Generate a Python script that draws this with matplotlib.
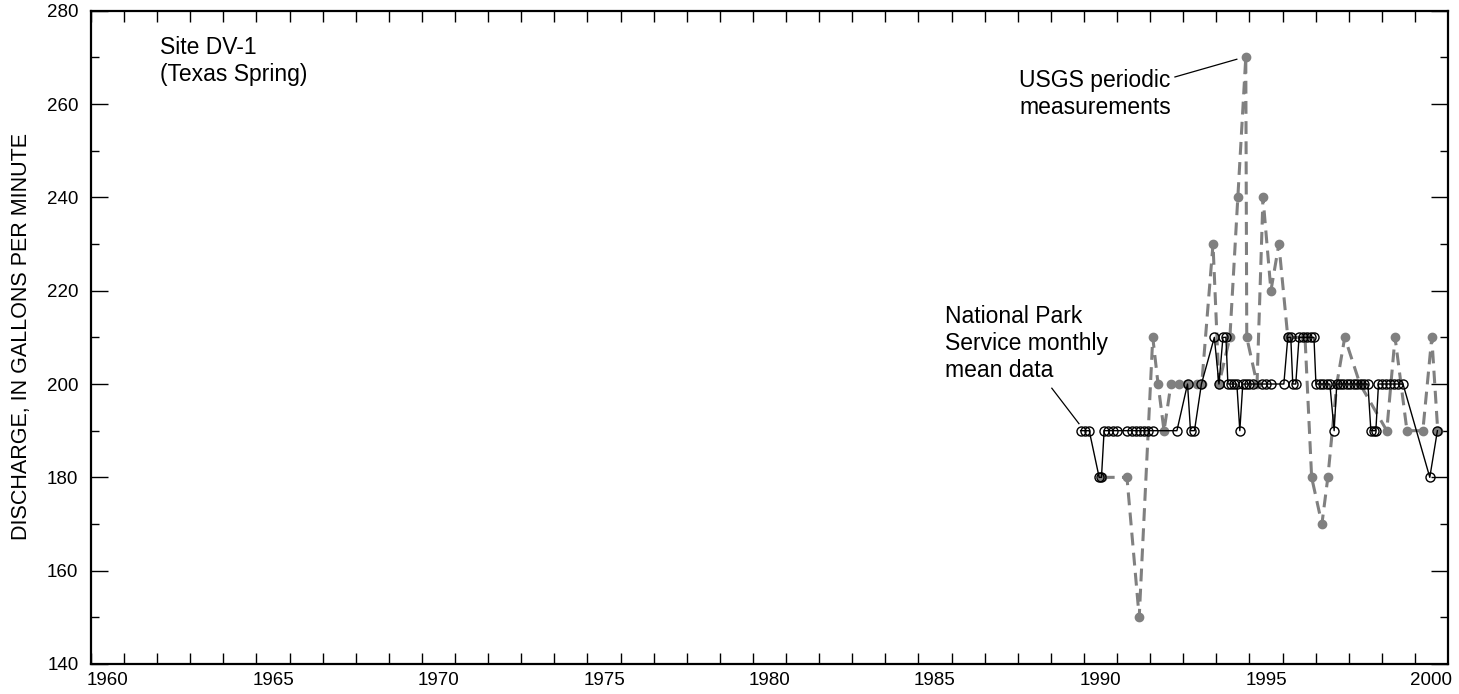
import matplotlib
matplotlib.use("Agg")
import matplotlib.pyplot as plt
import numpy as np

plt.rcParams['font.family'] = ['Liberation Sans', 'DejaVu Sans']

# National Park Service monthly mean data (decimal year, gallons per minute)
nps_year = [1989.90, 1990.03, 1990.16, 1990.46, 1990.53, 1990.61, 1990.73, 1990.87, 1990.99,
            1991.30, 1991.45, 1991.57, 1991.69, 1991.81, 1991.93, 1992.08, 1992.81,
            1993.13, 1993.22, 1993.34, 1993.55, 1993.94, 1994.08, 1994.20, 1994.29,
            1994.35, 1994.44, 1994.53, 1994.62, 1994.71, 1994.80, 1994.89, 1994.98, 1995.11,
            1995.37, 1995.50, 1995.64, 1996.04, 1996.16, 1996.25, 1996.31, 1996.40,
            1996.50, 1996.62, 1996.74, 1996.86, 1996.95, 1997.01, 1997.12, 1997.22,
            1997.33, 1997.43, 1997.56, 1997.64, 1997.73, 1997.84, 1997.95, 1998.05,
            1998.16, 1998.26, 1998.37, 1998.47, 1998.58, 1998.67, 1998.75, 1998.82,
            1998.90, 1999.02, 1999.14, 1999.26, 1999.38, 1999.50, 1999.64, 2000.45, 2000.68]
nps_flow = [190, 190, 190, 180, 180, 190, 190, 190, 190,
            190, 190, 190, 190, 190, 190, 190, 190,
            200, 190, 190, 200, 210, 200, 210, 210,
            200, 200, 200, 200, 190, 200, 200, 200, 200,
            200, 200, 200, 200, 210, 210, 200, 200,
            210, 210, 210, 210, 210, 200, 200, 200,
            200, 200, 190, 200, 200, 200, 200, 200,
            200, 200, 200, 200, 200, 190, 190, 190,
            200, 200, 200, 200, 200, 200, 200, 180, 190]

# USGS periodic measurements
usgs_year = [1990.54, 1991.30, 1991.67, 1992.08, 1992.24, 1992.42, 1992.63, 1992.87,
             1993.11, 1993.41, 1993.56, 1993.90, 1994.08, 1994.41, 1994.65, 1994.89,
             1994.92, 1995.23, 1995.41, 1995.65, 1995.89, 1996.16, 1996.68, 1996.88,
             1997.19, 1997.37, 1997.64, 1997.88, 1998.34, 1999.15, 1999.40, 1999.76,
             2000.24, 2000.51, 2000.69]
usgs_flow = [180, 180, 150, 210, 200, 190, 200, 200,
             200, 200, 200, 230, 200, 210, 240, 270,
             210, 200, 240, 220, 230, 210, 210, 180,
             170, 180, 200, 210, 200, 190, 210, 190,
             190, 210, 190]

year_labels = ['1960', '1965', '1970', '1975', '1980', '1985', '1990', '1995', '2000']
y_labels = ['140', '160', '180', '200', '220', '240', '260', '280']

fig = plt.figure(figsize=(14.59, 6.94), dpi=100)
ax = fig.add_axes([91/1459, 30/694, (1448-91)/1459, (664-10.7)/694])

ax.plot(usgs_year, usgs_flow, color='#808080', lw=2.2, dashes=(4.2, 2.4),
        marker='o', ms=6, mfc='#808080', mec='#808080', zorder=2)
ax.plot(nps_year, nps_flow, color='black', lw=1.0, marker='o', ms=6.5,
        mfc='none', mec='black', mew=1.0, zorder=3)

ax.set_xlim(1960, 2001)
ax.set_ylim(140, 280)

ax.set_xticks(np.arange(1960, 2001, 1))
ax.set_xticklabels([])
ax.set_xticks([int(s) + 0.5 for s in year_labels], minor=True)
ax.set_xticklabels(year_labels, minor=True)
ax.tick_params(axis='x', which='major', direction='in', length=8, width=1.0,
               top=True, bottom=True)
ax.tick_params(axis='x', which='minor', length=0, pad=6, labelsize=13.5)

ax.set_yticks([int(s) for s in y_labels])
ax.set_yticklabels(y_labels)
ax.set_yticks(np.arange(150, 280, 20), minor=True)
ax.tick_params(axis='y', which='major', direction='in', length=12, width=1.0,
               left=True, right=True, labelsize=13.5, pad=9)
ax.tick_params(axis='y', which='minor', direction='in', length=6, width=1.0,
               left=True, right=True)

for sp in ax.spines.values():
    sp.set_linewidth(1.6)

ax.text(1962.08, 274.5, 'Site DV-1\n(Texas Spring)', ha='left', va='top',
        fontsize=16.5, linespacing=1.2)
ax.text(1992.63, 262.2, 'USGS periodic\nmeasurements', ha='right', va='center',
        fontsize=16.5, linespacing=1.2, multialignment='center')
ax.plot([1992.75, 1994.62], [265.8, 269.6], color='black', lw=0.9)
ax.text(1985.80, 208.6, 'National Park\nService monthly\nmean data', ha='left',
        va='center', fontsize=16.5, linespacing=1.22)
ax.plot([1989.03, 1989.85], [199.1, 191.5], color='black', lw=0.9)

fig.text(22/1459, 1 - 337/694, 'DISCHARGE, IN GALLONS PER MINUTE', rotation=90,
         ha='center', va='center', fontsize=15.5)

fig.savefig('out.png', dpi=100)
